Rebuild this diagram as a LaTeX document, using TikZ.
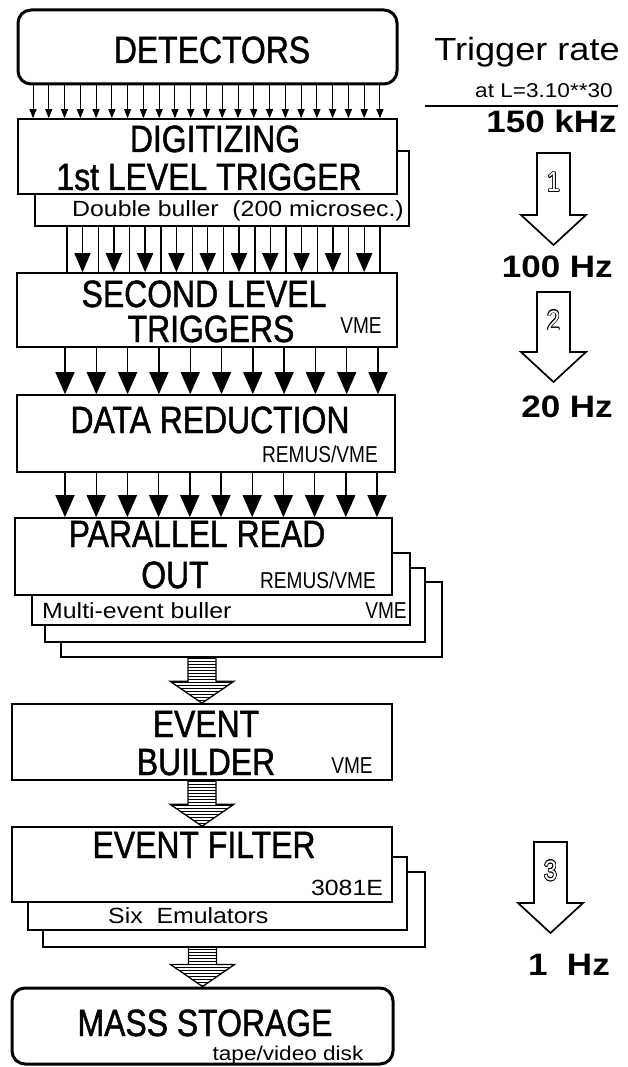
\documentclass[tikz,border=0pt]{standalone}
\usepackage{fontspec}
\setmainfont{Liberation Sans}
\newfontfamily\condfont[FakeStretch=0.84, FakeBold=1.2]{Liberation Sans}
\newfontfamily\tagfont[FakeStretch=0.83]{Liberation Sans}
\newfontfamily\widefont[FakeStretch=1.13]{Liberation Sans}
\usepackage{contour}
\contourlength{0.7pt}
\usetikzlibrary{calc,arrows.meta,patterns}

\begin{document}
\begin{tikzpicture}[x=1pt, y=-1pt,
  blk/.style={draw, line width=1.6pt, fill=white, inner sep=0pt},
  rblk/.style={blk, line width=3pt, rounded corners=13pt},
  big/.style={font=\condfont\fontsize{38}{38}\selectfont, anchor=base, inner sep=0pt},
  tag/.style={font=\tagfont\fontsize{23}{23}\selectfont, anchor=base, inner sep=0pt},
  note/.style={font=\widefont\fontsize{22}{22}\selectfont, anchor=base west, inner sep=0pt},
  rate/.style={font=\widefont\bfseries\fontsize{31}{31}\selectfont, anchor=base east, inner sep=0pt},
  thin arrow/.style={line width=1pt, -{Triangle[width=7pt,length=9pt]}},
  mid arrow/.style={line width=1.4pt, -{Triangle[width=16pt,length=19pt]}},
  wide arrow/.style={line width=1.4pt, -{Triangle[width=19pt,length=22pt]}},
  fat/.style={draw, line width=1.3pt, pattern=horizontal lines},
  hollow/.style={draw, line width=1.7pt, fill=white, line join=miter}]
  \useasboundingbox (0,0) rectangle (628,1067);

  % chain of boxes
  \node[rblk, minimum width=379pt, minimum height=74pt] (det) at (207.5,47) {};
  \node[blk, minimum width=374pt, minimum height=75pt] (dbuf) at (222,188.5) {};
  \node[blk, minimum width=379pt, minimum height=75pt] (dig) at (207.5,156.5) {};
  \node[blk, minimum width=380pt, minimum height=74pt] (sec) at (207,310) {};
  \node[blk, minimum width=378pt, minimum height=77pt] (red) at (206,433.5) {};
  \node[blk, minimum width=381pt, minimum height=75pt] (pro4) at (251.5,619.5) {};
  \node[blk, minimum width=380pt, minimum height=74pt] (pro3) at (235,605) {};
  \node[blk, minimum width=378pt, minimum height=72pt] (pro2) at (221,589) {};
  \node[blk, minimum width=377pt, minimum height=77pt] (pro) at (203.5,556.5) {};
  \node[blk, minimum width=380pt, minimum height=76pt] (evb) at (202,742) {};
  \node[blk, minimum width=382pt, minimum height=75pt] (evf3) at (234,909.5) {};
  \node[blk, minimum width=379pt, minimum height=73pt] (evf2) at (217.5,893.5) {};
  \node[blk, minimum width=380pt, minimum height=75pt] (evf) at (202,864.5) {};
  \node[rblk, minimum width=381pt, minimum height=76pt] (mass) at (202.5,1026) {};

  % parallel links
  \foreach \i in {0,...,22}
    \draw[thin arrow] ({33+15.77*\i},0 |- det.south) -- ({33+15.77*\i},0 |- dig.north);
  \foreach \i in {0,...,10}
    \draw[line width=1.4pt] ({67+31.3*\i},0 |- dbuf.south) -- ({67+31.3*\i},0 |- sec.north);
  \foreach \i in {0,...,9}
    \draw[mid arrow] ({82.5+31.3*\i},0 |- dbuf.south) -- ({82.5+31.3*\i},0 |- sec.north);
  \foreach \i in {0,...,10}
    \draw[wide arrow] ({65+31.3*\i},0 |- sec.south) -- ({65+31.3*\i},0 |- red.north);
  \foreach \i in {0,...,10}
    \draw[wide arrow] ({65+31.2*\i},0 |- red.south) -- ({65+31.2*\i},0 |- pro.north);

  % hatched block arrows
  \foreach \a/\b in {pro4/evb, evb/evf, evf3/mass}
    \draw[fat] ($(\b.north |- \a.south)+(-14,0)$) -- ($(\b.north)+(-14,-22)$)
      -- ($(\b.north)+(-32,-22)$) -- (\b.north) -- ($(\b.north)+(32,-22)$)
      -- ($(\b.north)+(14,-22)$) -- ($(\b.north |- \a.south)+(14,0)$);

  % box texts
  \node[big] (ldet) at (212,63) {DETECTORS};
  \node[big] (ldig1) at (215,152) {DIGITIZING};
  \node[big] (ldig2) at (209,190) {1st LEVEL TRIGGER};
  \node[note] (lbuf) at (72,217) {Double buller\ \ (200 microsec.)};
  \node[big] (lsec1) at (204,307) {SECOND LEVEL};
  \node[big] (lsec2) at (211,342) {TRIGGERS};
  \node[tag] (lsec3) at (361,333) {VME};
  \node[big] (lred1) at (210,433) {DATA REDUCTION};
  \node[tag] (lred2) at (320,462) {REMUS/VME};
  \node[big] (lpro1) at (197,547) {PARALLEL READ};
  \node[big] (lpro2) at (175,588) {OUT};
  \node[tag] (lpro3) at (318,588) {REMUS/VME};
  \node[note] (lpro4) at (42,618) {Multi-event buller};
  \node[tag] (lpro5) at (386,618) {VME};
  \node[big] (levb1) at (206,737) {EVENT};
  \node[big] (levb2) at (206,775) {BUILDER};
  \node[tag] (levb3) at (352,773) {VME};
  \node[big] (levf1) at (204,858) {EVENT FILTER};
  \node[note, anchor=base] (levf2) at (347,895) {3081E};
  \node[note] (levf3) at (108,923) {Six\ \ Emulators};
  \node[big] (lmass1) at (205,1036) {MASS STORAGE};
  \node[note, anchor=base, font=\widefont\fontsize{20}{20}\selectfont] (lmass2) at (288,1060) {tape/video disk};

  % trigger rates
  \node[rate, font=\widefont\fontsize{32}{32}\selectfont] (trig) at (620,61) {Trigger rate};
  \node[rate, font=\widefont\fontsize{20}{20}\selectfont] (lum) at (613,98) {at L=3.10**30};
  \draw[line width=1.3pt] (425,106) -- (618,106);
  \node[rate] (r150) at (617,133) {150 kHz};
  \node[rate] (r100) at (613,277) {100 Hz};
  \node[rate] (r20) at (613,417) {20 Hz};
  \node[rate] (r1) at (610,975) {1~~Hz};

  \coordinate (a1) at (553.5,153);
  \coordinate (b1) at (553.5,245);
  \coordinate (a2) at (553.5,292);
  \coordinate (b2) at (553.5,382);
  \coordinate (a3) at (550.5,842);
  \coordinate (b3) at (550.5,933);
  \foreach \a/\b/\n in {a1/b1/1, a2/b2/2, a3/b3/3} {
    \draw[hollow] ($(\a)+(-16.5,0)$) -- ($(\b)+(-16.5,-30)$) -- ($(\b)+(-32.5,-30)$)
      -- (\b) -- ($(\b)+(32.5,-30)$) -- ($(\b)+(16.5,-30)$) -- ($(\a)+(16.5,0)$) -- cycle;
    \node[font=\tagfont\fontsize{28}{28}\selectfont, inner sep=0pt] (n\n) at ($(\a)!0.32!(\b)$)
      {\contour{black}{\textcolor{white}{\n}}};
  }
\end{tikzpicture}
\end{document}
